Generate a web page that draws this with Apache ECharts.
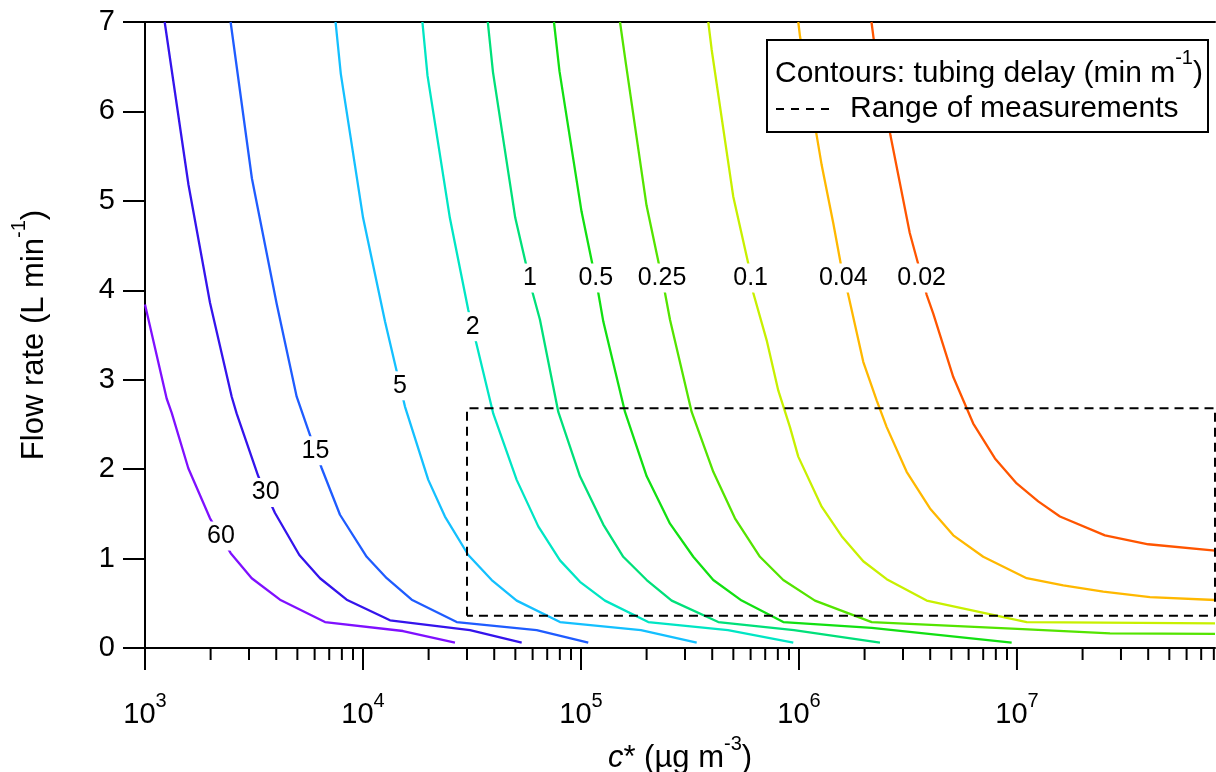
<!DOCTYPE html>
<html>
<head>
<meta charset="utf-8">
<script src="https://cdn.jsdelivr.net/npm/echarts@6/dist/echarts.min.js"></script>
<style>
html,body{margin:0;padding:0;background:#fff;}
#chart{width:1216px;height:772px;}
</style>
</head>
<body>
<div id="chart"></div>
<script>
// ---------------- data ----------------
const contourLevels = ['60', '30', '15', '5', '2', '1', '0.5', '0.25', '0.1', '0.04', '0.02'];

// each contour: [c* (µg m-3), flow rate (L min-1)]
const contour60 = [[1000,3.84],[1257,2.79],[1326,2.63],[1580,2.01],[1987,1.45],[2473,1.06],[3087,0.78],[4161,0.54],[6694,0.29],[15260,0.19],[26420,0.06]];
const contour30 = [[1231,7.0],[1583,5.18],[1987,3.86],[2499,2.81],[2634,2.62],[3309,1.92],[3948,1.51],[5104,1.04],[6351,0.78],[8417,0.54],[13300,0.31],[30960,0.20],[53460,0.06]];
const contour15 = [[2470,7.0],[3094,5.25],[4018,3.85],[4964,2.81],[5714,2.38],[6465,2.01],[7843,1.49],[10400,1.02],[12850,0.78],[16730,0.54],[26910,0.29],[62630,0.20],[108000,0.06]];
const contour5 = [[7485,7.0],[7911,6.42],[10010,4.81],[12620,3.65],[15580,2.70],[19930,1.88],[23770,1.47],[30410,1.04],[38950,0.76],[50700,0.53],[80120,0.29],[188400,0.20],[339500,0.06]];
const contour2 = [[18730,7.0],[19770,6.40],[25030,4.81],[30410,3.78],[33230,3.39],[39600,2.62],[50700,1.88],[63700,1.36],[80120,0.98],[98950,0.74],[128800,0.53],[203500,0.29],[472400,0.20],[941700,0.06]];
const contour1 = [[37370,7.0],[39470,6.44],[49950,4.81],[60030,3.97],[64840,3.67],[78700,2.64],[98950,1.92],[126600,1.38],[156300,1.02],[200200,0.76],[260700,0.53],[426500,0.29],[948700,0.20],[2353000,0.06]];
const contour05 = [[75170,7.0],[79680,6.45],[100600,4.88],[120100,3.97],[126600,3.65],[159200,2.64],[200200,1.92],[256100,1.39],[327500,1.02],[404500,0.76],[546100,0.53],[847300,0.29],[2156000,0.225],[9456000,0.06]];
const contour025 = [[151000,7.0],[161000,6.52],[199800,4.95],[242900,3.97],[256100,3.67],[321900,2.64],[404500,1.97],[508600,1.45],[662300,1.02],[847300,0.76],[1184000,0.53],[2156000,0.29],[10630000,0.21],[26710000,0.164],[81000000,0.157]];
const contour01 = [[383700,7.0],[397700,6.69],[499400,5.05],[585400,4.30],[617200,3.97],[711100,3.44],[803500,2.88],[909300,2.47],[992600,2.14],[1271000,1.58],[1570000,1.25],[1972000,0.97],[2526000,0.77],[3853000,0.53],[11080000,0.29],[81000000,0.276]];
const contour004 = [[992600,7.0],[1011000,6.84],[1206000,5.73],[1271000,5.40],[1437000,4.75],[1554000,4.30],[1683000,3.95],[1972000,3.20],[2272000,2.77],[2526000,2.47],[3119000,1.97],[3990000,1.56],[5104000,1.26],[7004000,1.02],[11080000,0.78],[16310000,0.70],[24890000,0.63],[40740000,0.57],[81000000,0.537]];
const contour002 = [[2151000,7.0],[2199000,6.82],[2629000,5.73],[3223000,4.64],[3518000,4.30],[3853000,3.95],[4131000,3.74],[5104000,3.03],[6302000,2.51],[7926000,2.12],[9968000,1.84],[12520000,1.64],[15750000,1.47],[25330000,1.26],[40020000,1.16],[81000000,1.09]];

// contour label anchor points [c*, flow]
const contourLabelPoints = [[2232,1.252],[3581,1.739],[6053,2.205],[14780,2.932],[31840,3.593],[58340,4.137],[117000,4.137],[235300,4.137],[600200,4.137],[1597000,4.137],[3654000,4.137]];

// range of measurements (dashed rectangle)
const measRangeX = [30000, 81000000];
const measRangeY = [0.36, 2.68];

// axis ticks
const xMajorTicks = [1e3, 1e4, 1e5, 1e6, 1e7];
const xTickExponents = ['3', '4', '5', '6', '7'];
const xMinorTicks = [2e3,3e3,4e3,5e3,6e3,7e3,8e3,9e3,2e4,3e4,4e4,5e4,6e4,7e4,8e4,9e4,2e5,3e5,4e5,5e5,6e5,7e5,8e5,9e5,2e6,3e6,4e6,5e6,6e6,7e6,8e6,9e6,2e7,3e7,4e7,5e7,6e7,7e7,8e7];
const yTicks = [0, 1, 2, 3, 4, 5, 6, 7];

// ---------------- styling ----------------
const contourSeriesData = [contour60, contour30, contour15, contour5, contour2, contour1, contour05, contour025, contour01, contour004, contour002];
const contourColors = ['#7f10ff', '#3414ec', '#1f5cff', '#14c0ff', '#00e6c4', '#00e07a', '#12e012', '#54e400', '#c8f000', '#ffb800', '#ff5500'];
const FONT = "'Liberation Sans', Arial, sans-serif";
const X_MIN = 1000, X_MAX = 81000000;

const chart = echarts.init(document.getElementById('chart'), null, {renderer: 'canvas'});

const series = [];
contourSeriesData.forEach((d, i) => {
  series.push({
    type: 'line', name: contourLevels[i], data: d,
    symbol: 'none', showSymbol: false, silent: true, z: 2,
    lineStyle: {color: contourColors[i], width: 2.3, join: 'round'},
    itemStyle: {color: contourColors[i]}
  });
});

series.push({
  type: 'line', name: 'range', silent: true, symbol: 'none', clip: false, z: 3,
  data: [[measRangeX[0], measRangeY[0]], [measRangeX[0], measRangeY[1]], [measRangeX[1], measRangeY[1]], [measRangeX[1], measRangeY[0]], [measRangeX[0], measRangeY[0]]],
  lineStyle: {color: '#000', width: 2, type: [9, 6]}
});

series.push({
  type: 'scatter', silent: true, z: 6, symbolSize: 1,
  itemStyle: {color: 'rgba(255,255,255,0)'},
  data: contourLabelPoints.map((p, i) => ({value: p, name: contourLevels[i]})),
  label: {show: true, position: 'inside', formatter: '{b}', fontSize: 25, fontFamily: FONT, color: '#000000',
          opacity: 1, textBorderWidth: 0, textShadowBlur: 0,
          backgroundColor: '#ffffff', padding: [2, 2]}
});

function tickSeries(values, len) {
  return {
    type: 'custom', silent: true, clip: false, z: 4,
    data: values.map(v => [v, 0]),
    renderItem: function (params, api) {
      const p = api.coord([api.value(0), 0]);
      return {type: 'line', shape: {x1: p[0], y1: p[1], x2: p[0], y2: p[1] + len},
              style: {stroke: '#000', lineWidth: 2}};
    }
  };
}
series.push(tickSeries(xMajorTicks, 22));
series.push(tickSeries(xMinorTicks, 12));

const option = {
  animation: false,
  backgroundColor: '#fff',
  grid: {left: 145, right: 1, top: 22, bottom: 124, containLabel: false, outerBoundsMode: 'none'},
  xAxis: [{
    type: 'log', logBase: 10, min: X_MIN, max: X_MAX, position: 'bottom',
    axisLine: {show: true, lineStyle: {color: '#000', width: 2}},
    axisTick: {show: false},
    splitLine: {show: false},
    axisLabel: {
      margin: 43, color: '#000', fontFamily: FONT,
      formatter: function (v) {
        const i = xMajorTicks.findIndex(t => Math.abs(t - v) / t < 1e-6);
        return i < 0 ? '' : '{b|10}{s|' + xTickExponents[i] + '}';
      },
      rich: {
        b: {fontSize: 29, lineHeight: 48, fontFamily: FONT, color: '#000'},
        s: {fontSize: 20, lineHeight: 20, verticalAlign: 'top', fontFamily: FONT, color: '#000'}
      }
    },
    name: '{i|c}* (µg m{s|-3})', nameLocation: 'middle', nameGap: 84,
    nameTextStyle: {fontSize: 31, lineHeight: 48, fontFamily: FONT, color: '#000',
      rich: {
        i: {fontSize: 31, lineHeight: 48, fontStyle: 'italic', fontFamily: FONT, color: '#000'},
        s: {fontSize: 20, lineHeight: 20, verticalAlign: 'top', fontFamily: FONT, color: '#000'}
      }}
  }, {
    type: 'log', logBase: 10, min: X_MIN, max: X_MAX, position: 'top',
    axisLine: {show: true, lineStyle: {color: '#000', width: 2}},
    axisTick: {show: false}, axisLabel: {show: false}, splitLine: {show: false}
  }],
  yAxis: {
    type: 'value', min: yTicks[0], max: yTicks[yTicks.length - 1], interval: 1,
    axisLine: {show: true, lineStyle: {color: '#000', width: 2}},
    axisTick: {show: true, length: 22, lineStyle: {color: '#000', width: 2}},
    splitLine: {show: false},
    axisLabel: {margin: 30, fontSize: 29, fontFamily: FONT, color: '#000'},
    name: 'Flow rate (L min{s|-1})', nameLocation: 'middle', nameGap: 86,
    nameTextStyle: {fontSize: 31, lineHeight: 50, fontFamily: FONT, color: '#000',
      rich: {s: {fontSize: 20, lineHeight: 20, verticalAlign: 'top', fontFamily: FONT, color: '#000'}}}
  },
  series: series,
  graphic: [
    {type: 'rect', z: 100, shape: {x: 767, y: 40, width: 441, height: 92},
     style: {fill: '#fff', stroke: '#000', lineWidth: 2}},
    {type: 'text', z: 101, x: 775, y: 74,
     style: {text: '{n|Contours: tubing delay (min m}{s|-1}{n|)}', verticalAlign: 'middle', align: 'left',
       rich: {
         n: {fontSize: 30, lineHeight: 52, fontFamily: FONT, fill: '#000', color: '#000'},
         s: {fontSize: 20, lineHeight: 20, verticalAlign: 'top', fontFamily: FONT, fill: '#000', color: '#000'}
       }}},
    {type: 'line', z: 101, shape: {x1: 776, y1: 109, x2: 836, y2: 109},
     style: {stroke: '#000', lineWidth: 2, lineDash: [8, 7]}},
    {type: 'text', z: 101, x: 850, y: 109,
     style: {text: 'Range of measurements', fontSize: 30, fontFamily: FONT, fill: '#000', verticalAlign: 'middle', align: 'left'}}
  ]
};
chart.setOption(option);
</script>
</body>
</html>
